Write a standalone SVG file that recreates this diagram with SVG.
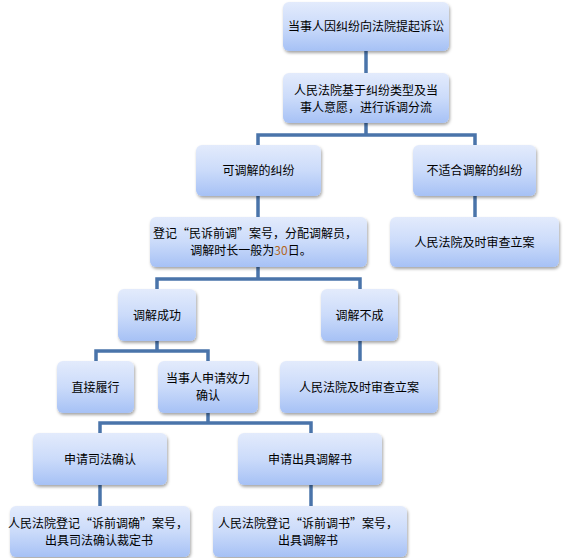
<svg xmlns="http://www.w3.org/2000/svg" width="570" height="558" viewBox="0 0 570 558">
<style>
.box{fill:url(#g);filter:url(#sh)}
.t{font-family:"Noto Sans CJK SC","Liberation Sans",sans-serif;font-size:12px;fill:#000;text-anchor:middle}
.c{fill:none;stroke:#4a74aa;stroke-width:3.5}
</style>
<defs>
<linearGradient id="g" x1="0" y1="0" x2="0" y2="1">
<stop offset="0" stop-color="#e3ebfc"/>
<stop offset="0.5" stop-color="#cbdbfa"/>
<stop offset="1" stop-color="#a6c1f5"/>
</linearGradient>
<filter id="sh" x="-10%" y="-10%" width="130%" height="140%">
<feDropShadow dx="1" dy="2" stdDeviation="1.5" flood-color="#000" flood-opacity="0.35"/>
</filter>
</defs>
<g id="connectors">
<path class="c" d="M366 51V73"/>
<path class="c" d="M366 123V135M258 145V135H475V145"/>
<path class="c" d="M258 196V217"/>
<path class="c" d="M475 196V217"/>
<path class="c" d="M258 267V279M157 289V279H360V289"/>
<path class="c" d="M157 341V351M96 361V351H208V361"/>
<path class="c" d="M360 341V361"/>
<path class="c" d="M208 413V423M100 433V423H311V433"/>
<path class="c" d="M100 485V506"/>
<path class="c" d="M311 485V506"/>
</g>
<g id="n1"><rect class="box" x="283" y="2" width="166" height="49" rx="6"/><text class="t" x="366" y="31">当事人因纠纷向法院提起诉讼</text></g>
<g id="n2"><rect class="box" x="283" y="73" width="166" height="50" rx="6"/><text class="t" x="366" y="94.5">人民法院基于纠纷类型及当</text><text class="t" x="366" y="111.5">事人意愿，进行诉调分流</text></g>
<g id="n3"><rect class="box" x="196" y="145" width="125" height="51" rx="6"/><text class="t" x="258.5" y="175">可调解的纠纷</text></g>
<g id="n4"><rect class="box" x="413" y="145" width="123" height="51" rx="6"/><text class="t" x="474.5" y="175">不适合调解的纠纷</text></g>
<g id="n5"><rect class="box" x="150" y="217" width="217" height="50" rx="6"/><text class="t" x="255" y="237.5">登记“民诉前调”案号，分配调解员，</text><text class="t" x="251" y="254.5">调解时长一般为<tspan fill="#b3661e">30</tspan>日。</text></g>
<g id="n6"><rect class="box" x="390" y="217" width="169" height="50" rx="6"/><text class="t" x="474.5" y="246.5">人民法院及时审查立案</text></g>
<g id="n7"><rect class="box" x="118" y="289" width="78" height="52" rx="6"/><text class="t" x="157" y="319.5">调解成功</text></g>
<g id="n8"><rect class="box" x="321" y="289" width="77" height="52" rx="6"/><text class="t" x="359.5" y="319.5">调解不成</text></g>
<g id="n9"><rect class="box" x="57" y="361" width="77" height="52" rx="6"/><text class="t" x="95.5" y="391.5">直接履行</text></g>
<g id="n10"><rect class="box" x="158" y="361" width="100" height="52" rx="6"/><text class="t" x="208" y="383">当事人申请效力</text><text class="t" x="208" y="400">确认</text></g>
<g id="n11"><rect class="box" x="280" y="361" width="158" height="52" rx="6"/><text class="t" x="359" y="391.5">人民法院及时审查立案</text></g>
<g id="n12"><rect class="box" x="33" y="433" width="134" height="52" rx="6"/><text class="t" x="100" y="463.5">申请司法确认</text></g>
<g id="n13"><rect class="box" x="238" y="433" width="144" height="52" rx="6"/><text class="t" x="310" y="463.5">申请出具调解书</text></g>
<g id="n14"><rect class="box" x="10" y="506" width="180" height="51" rx="6"/><text class="t" x="98" y="528">人民法院登记“诉前调确”案号，</text><text class="t" x="99" y="545">出具司法确认裁定书</text></g>
<g id="n15"><rect class="box" x="213" y="506" width="194" height="51" rx="6"/><text class="t" x="308" y="528">人民法院登记“诉前调书”案号，</text><text class="t" x="308" y="545">出具调解书</text></g>
</svg>
